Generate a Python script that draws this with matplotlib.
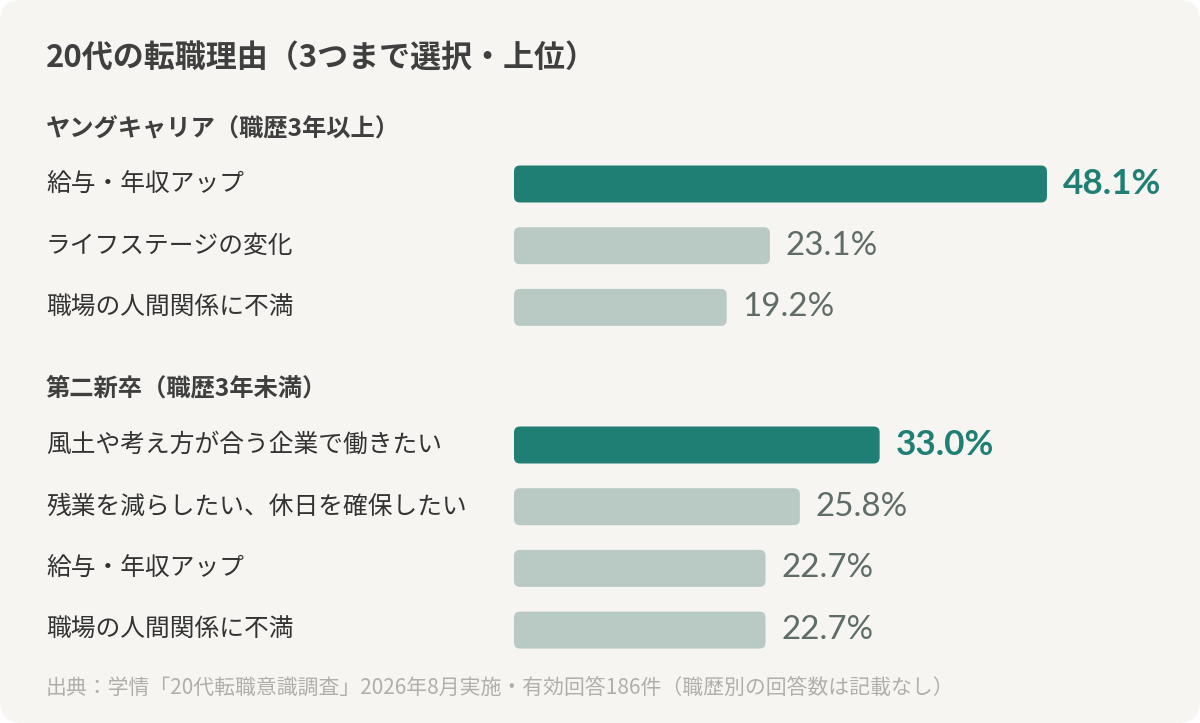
import matplotlib.pyplot as plt
from matplotlib.patches import FancyBboxPatch

# data
title = "20代の転職理由（3つまで選択・上位）"
group_names = ["ヤングキャリア（職歴3年以上）", "第二新卒（職歴3年未満）"]
young_labels = ["給与・年収アップ", "ライフステージの変化", "職場の人間関係に不満"]
young_values = [48.1, 23.1, 19.2]
second_labels = ["風土や考え方が合う企業で働きたい", "残業を減らしたい、休日を確保したい",
                 "給与・年収アップ", "職場の人間関係に不満"]
second_values = [33.0, 25.8, 22.7, 22.7]
source = "出典：学情「20代転職意識調査」2026年8月実施・有効回答186件（職歴別の回答数は記載なし）"

JP = ['Noto Sans CJK JP', 'DejaVu Sans']
NUM = ['Lato', 'Noto Sans CJK JP']
BG = '#f6f5f1'
TEAL = '#1f7f74'
LIGHT = '#b9cac4'

W, H = 1200, 723
px_per_pct = 11.08
bar_x0 = 514
bar_h = 37
pitch = 61.7

fig = plt.figure(figsize=(12, 7.23), dpi=100)
fig.patch.set_facecolor('white')

ax = fig.add_axes([0, 0, 1, 1])
ax.set_xlim(0, W)
ax.set_ylim(H, 0)
ax.axis('off')
ax.add_patch(FancyBboxPatch((0, 0), W, H, boxstyle="round,pad=0,rounding_size=22",
                            fc=BG, ec='none'))

axb = fig.add_axes([bar_x0 / W, 0, (W - bar_x0) / W, 1])
axb.set_xlim(0, (W - bar_x0) / px_per_pct)
axb.set_ylim(H, 0)
axb.axis('off')
axb.patch.set_alpha(0)

ax.text(46, 58, title, family=JP, fontsize=22.3, fontweight='bold',
        color='#3f3f3f', va='center', ha='left')


def draw_group(header_y, name, labels, values):
    ax.text(46, header_y, name, family=JP, fontsize=17.5, fontweight='bold',
            color='#3f3f3f', va='center', ha='left')
    top = max(values)
    for i, (lab, v) in enumerate(zip(labels, values)):
        y = header_y + 56 + i * pitch
        hi = v == top
        ax.text(46, y, lab, family=JP, fontsize=17.8, color='#333333',
                va='center', ha='left')
        r = 6 / px_per_pct
        axb.add_patch(FancyBboxPatch((0, y - bar_h / 2), v, bar_h,
                                     boxstyle=f"round,pad=0,rounding_size={r}",
                                     mutation_aspect=px_per_pct,
                                     fc=TEAL if hi else LIGHT, ec='none'))
        axb.text(v + 16 / px_per_pct, y, f"{v:.1f}%", family=NUM,
                 fontsize=25.3 if hi else 23.9,
                 fontweight='bold' if hi else 'normal',
                 color=TEAL if hi else '#5e6d67', va='center', ha='left')


draw_group(128, group_names[0], young_labels, young_values)
draw_group(389, group_names[1], second_labels, second_values)

ax.text(46, 688, source, family=JP, fontsize=15, color='#b1afaa',
        va='center', ha='left')

fig.savefig('out.png', dpi=100, facecolor='white')
